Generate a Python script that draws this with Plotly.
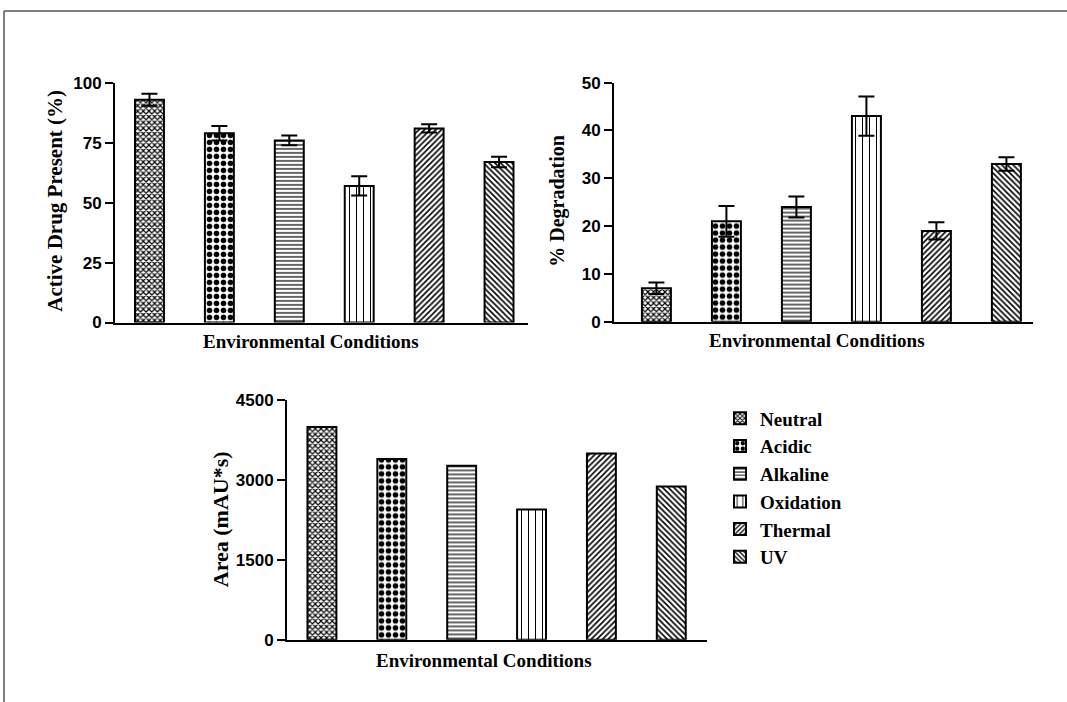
import plotly.graph_objects as go

# Stress-test results for each environmental condition
conditions = ["Neutral", "Acidic", "Alkaline", "Oxidation", "Thermal", "UV"]
active_drug = [93, 79, 76, 57, 81, 67]
active_drug_sd = [2.5, 3.0, 2.0, 4.0, 1.7, 2.2]
degradation = [7, 21, 24, 43, 19, 33]
degradation_sd = [1.2, 3.2, 2.2, 4.1, 1.8, 1.4]
peak_area = [4000, 3400, 3270, 2450, 3500, 2880]

y1_ticks = [0, 25, 50, 75, 100]
y2_ticks = [0, 10, 20, 30, 40, 50]
y3_ticks = [0, 1500, 3000, 4500]

# fill pattern per condition: (shape, tile size, solidity)
pattern_style = {
    "Neutral": ("x", 4, 0.5),
    "Acidic": (".", 7, 0.5),
    "Alkaline": ("-", 4, 0.3),
    "Oxidation": ("|", 7, 0.15),
    "Thermal": ("/", 4, 0.4),
    "UV": ("\\", 4, 0.4),
}

W, H = 1067, 702
BAR_W = 0.414
# vertical placement of the drawing area on the page
V_OFF = 9.0
V_SCALE = 684.0 / 702.0


def px_x(p):
    return p / W


def px_y(p):
    return 1 - ((p - V_OFF) / V_SCALE) / H


fig = go.Figure()

panels = [
    ("x", "y", active_drug, active_drug_sd, False),
    ("x2", "y2", degradation, degradation_sd, False),
    ("x3", "y3", peak_area, None, True),
]

for xa, ya, vals, sds, show in panels:
    for i, cond in enumerate(conditions):
        shape, size, solid = pattern_style[cond]
        err = None
        if sds is not None:
            err = dict(type="data", array=[sds[i]], visible=True,
                       color="black", thickness=2, width=8)
        fig.add_trace(go.Bar(
            x=[cond], y=[vals[i]], name=cond, legendgroup=cond,
            showlegend=show, xaxis=xa, yaxis=ya, width=BAR_W,
            marker=dict(color="white",
                        line=dict(color="black", width=2),
                        pattern=dict(shape=shape, size=size, solidity=solid,
                                     fgcolor="black", bgcolor="white",
                                     fillmode="replace")),
            error_y=err,
        ))

tick_font = dict(family="Liberation Sans, Arial, sans-serif", size=17,
                 color="black", weight="bold")
serif = "Liberation Serif, Times New Roman, serif"

xcommon = dict(type="category", categoryorder="array", categoryarray=conditions,
               showticklabels=False, ticks="", showline=True, linecolor="black",
               linewidth=2, showgrid=False, zeroline=False, fixedrange=True)
ycommon = dict(showline=True, linecolor="black", linewidth=2, ticks="outside",
               ticklen=8, tickwidth=2, tickcolor="black", showgrid=False,
               zeroline=False, tickfont=tick_font, fixedrange=True)

fig.update_layout(
    width=W, height=H,
    margin=dict(l=0, r=0, t=0, b=0),
    paper_bgcolor="white", plot_bgcolor="white",
    barmode="overlay",
    xaxis=dict(xcommon, domain=[px_x(115), px_x(527.7)], range=[-0.493, 5.41],
               anchor="y"),
    yaxis=dict(ycommon, domain=[px_y(323), px_y(83)], range=[0, 100],
               tickvals=y1_ticks, anchor="x"),
    xaxis2=dict(xcommon, domain=[px_x(614), px_x(1033)], range=[-0.606, 5.38],
                anchor="y2"),
    yaxis2=dict(ycommon, domain=[px_y(322.3), px_y(82.7)], range=[0, 50],
                tickvals=y2_ticks, anchor="x2"),
    xaxis3=dict(xcommon, domain=[px_x(287), px_x(706.7)], range=[-0.5, 5.507],
                anchor="y3"),
    yaxis3=dict(ycommon, domain=[px_y(640.7), px_y(401)], range=[0, 4500],
                tickvals=y3_ticks, anchor="x3"),
    legend=dict(x=px_x(720), y=px_y(400), xanchor="left", yanchor="top",
                font=dict(family=serif, size=19, color="black", weight="bold"),
                tracegroupgap=0, bgcolor="rgba(0,0,0,0)", borderwidth=0),
    showlegend=True,
)


def title_font(s):
    return dict(family=serif, size=s, color="black", weight="bold")


labels = [
    ("Environmental Conditions", 310.5, 341.7, 0, 19),
    ("Environmental Conditions", 817, 341, 0, 19),
    ("Environmental Conditions", 484, 661, 0, 19),
    ("Active Drug Present (%)", 55, 201, -90, 21),
    ("% Degradation", 558, 201, -90, 20),
    ("Area (mAU*s)", 220, 520, -90, 22),
]
for text, cx, cy, ang, sz in labels:
    fig.add_annotation(text=text, x=px_x(cx), y=px_y(cy), xref="paper",
                       yref="paper", showarrow=False, textangle=ang,
                       xanchor="center", yanchor="middle", font=title_font(sz))

# page frame: top and left edges
fig.add_shape(type="line", xref="paper", yref="paper", x0=px_x(4), x1=1,
              y0=px_y(11), y1=px_y(11), line=dict(color="#555555", width=1.5))
fig.add_shape(type="line", xref="paper", yref="paper", x0=px_x(4), x1=px_x(4),
              y0=px_y(11), y1=px_y(705), line=dict(color="#555555", width=1.5))

fig.write_html("out.html")
